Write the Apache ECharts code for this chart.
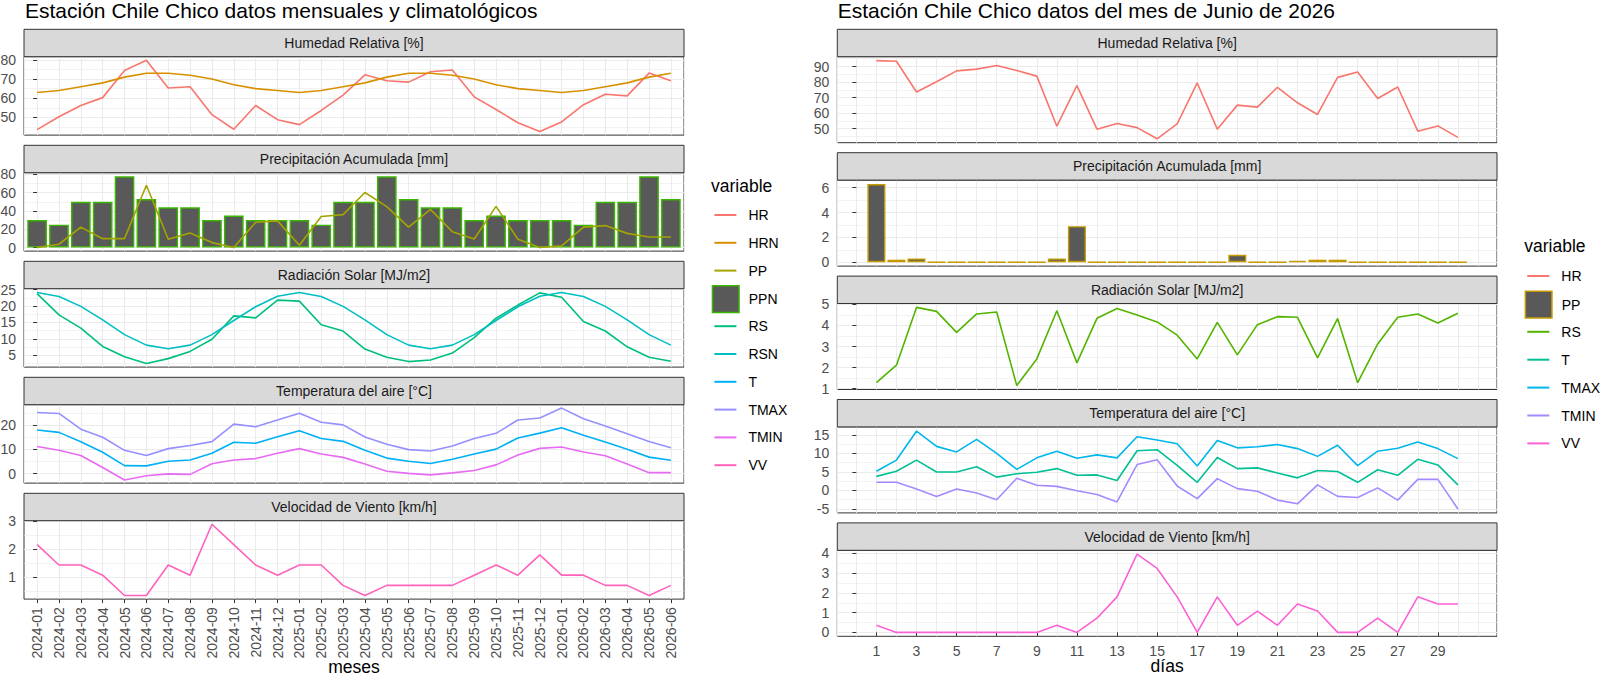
<!DOCTYPE html>
<html><head><meta charset="utf-8">
<script src="https://cdn.jsdelivr.net/npm/echarts@6/dist/echarts.min.js"></script>
<style>html,body{margin:0;padding:0;background:#fff}#c{width:1600px;height:676px}</style>
</head><body><div id="c"></div>
<script>
// ===== DATA: monthly block =====
const meses = ['2024-01','2024-02','2024-03','2024-04','2024-05','2024-06','2024-07','2024-08','2024-09','2024-10','2024-11','2024-12',
  '2025-01','2025-02','2025-03','2025-04','2025-05','2025-06','2025-07','2025-08','2025-09','2025-10','2025-11','2025-12',
  '2026-01','2026-02','2026-03','2026-04','2026-05','2026-06'];
const HR   = [43.6,50.3,56.2,60.3,74.5,79.8,65.3,66.0,51.4,43.8,56.2,48.8,46.2,53.6,61.6,72.2,69.1,68.4,73.8,74.7,60.7,54.1,47.2,42.6,47.6,56.6,62.1,61.2,73.1,69.1];
const HRN  = [63,64,66,68,71,73,73,72,70,67,65,64,63,64,66,68,71,73,73,72,70,67,65,64,63,64,66,68,71,73];
const PP   = [0,3.6,22.3,9.7,9.7,68.1,9.0,15.9,5.4,0,27.7,29.2,2.5,33.9,36.0,60.2,44.7,22.3,41.8,17.3,9.4,45.0,9.0,0,1.8,22.3,24.0,15.5,11.5,11.5];
const PPN  = [30,25,50,50,78,53,44,44,30,35,30,30,30,25,50,50,78,53,44,44,30,35,30,30,30,25,50,50,78,53];
const RS   = [23.8,17.3,13.3,7.7,4.6,2.5,4.0,6.2,9.9,17.0,16.4,21.8,21.5,14.3,12.4,6.9,4.4,3.1,3.6,5.7,10.4,16.3,20.3,24.0,22.7,15.3,12.4,7.6,4.4,3.2];
const RSN  = [24.1,22.9,19.9,15.8,11.3,8.1,7.0,8.1,11.3,15.6,19.8,23.0,24.1,22.9,19.9,15.8,11.3,8.1,7.0,8.1,11.3,15.6,19.8,23.0,24.1,22.9,19.9,15.8,11.3,8.1];
const T    = [18.0,17.0,13.1,8.8,3.3,3.2,5.1,5.6,8.4,12.9,12.5,15.2,17.7,14.5,13.3,9.6,6.4,5.1,4.2,5.9,8.1,10.1,14.7,16.7,18.9,15.8,13.0,10.0,6.8,5.5];
const TMAX = [25.2,24.8,18.3,15.0,9.6,7.5,10.3,11.6,13.2,20.4,19.3,22.1,24.9,21.2,20.1,15.1,12.1,9.9,9.3,11.4,14.5,16.6,22.1,22.9,27.0,22.6,19.6,16.4,13.2,10.7];
const TMIN = [11.2,9.6,7.5,2.5,-2.6,-0.9,-0.1,-0.3,4.1,5.6,6.2,8.4,10.3,8.1,6.7,4.0,1.0,0.1,-0.5,0.3,1.3,3.6,7.7,10.4,11.0,8.9,7.4,4.0,0.4,0.4];
const VV   = [2.16,1.44,1.44,1.08,0.36,0.36,1.44,1.08,2.88,2.16,1.44,1.08,1.44,1.44,0.72,0.36,0.72,0.72,0.72,0.72,1.08,1.44,1.08,1.8,1.08,1.08,0.72,0.72,0.36,0.72];

// ===== DATA: daily block (June 2026) =====
const dias  = [1,2,3,4,5,6,7,8,9,10,11,12,13,14,15,16,17,18,19,20,21,22,23,24,25,26,27,28,29,30];
const dHR   = [93.8,93.4,73.6,80.2,87.2,88.3,90.6,87.4,83.8,51.5,77.7,49.6,53.2,50.6,43.4,53.0,79.4,49.6,65.1,63.8,76.6,66.6,59.1,83.0,86.4,69.4,76.8,48.3,51.7,44.3];
const dPP   = [6.3,0.2,0.3,0,0,0,0,0,0,0.3,2.9,0,0,0,0,0,0,0,0.6,0,0,0.1,0.2,0.2,0,0,0,0,0,0];
const dRS   = [1.28,2.11,4.86,4.67,3.67,4.55,4.64,1.14,2.41,4.70,2.22,4.34,4.81,4.50,4.17,3.54,2.41,4.15,2.60,4.04,4.42,4.39,2.46,4.33,1.28,3.12,4.39,4.55,4.12,4.58];
const dT    = [3.8,5.2,8.2,5.0,5.0,6.4,3.6,4.5,4.9,5.9,4.1,4.2,2.7,10.7,11.0,6.8,2.2,8.9,5.9,6.1,4.7,3.4,5.4,5.1,2.2,5.6,4.1,8.4,6.9,1.5];
const dTMAX = [5.2,8.2,16.0,11.9,10.4,13.8,10.0,5.7,8.8,10.6,8.7,9.6,8.8,14.5,13.6,12.6,6.6,13.5,11.5,11.8,12.4,11.3,9.2,12.2,6.7,10.6,11.4,13.1,11.3,8.6];
const dTMIN = [2.2,2.2,0.4,-1.6,0.4,-0.7,-2.5,3.3,1.4,1.1,-0.1,-1.1,-3.1,7.0,8.3,1.2,-2.2,3.2,0.5,-0.2,-2.6,-3.6,1.5,-1.6,-1.9,0.7,-2.6,3.0,3.0,-5.0];
const dVV   = [0.36,0,0,0,0,0,0,0,0,0.36,0,0.72,1.8,3.96,3.24,1.8,0,1.8,0.36,1.08,0.36,1.44,1.08,0,0,0.72,0,1.8,1.44,1.44];

// ===== TICK LABELS =====
const tkHRm = [50,60,70,80];
const tkPPm = [0,20,40,60,80];
const tkRSm = [5,10,15,20,25];
const tkTm  = [0,10,20];
const tkVVm = [1,2,3];
const tkHRd = [50,60,70,80,90];
const tkPPd = [0,2,4,6];
const tkRSd = [1,2,3,4,5];
const tkTd  = [-5,0,5,10,15];
const tkVVd = [0,1,2,3,4];
const tkDias = [1,3,5,7,9,11,13,15,17,19,21,23,25,27,29];

// ===== STYLE / LAYOUT =====
const FONT = "'Liberation Sans', Arial, Helvetica, sans-serif";
const AX_TXT = '#4D4D4D', BORDER = '#333333', GRID_C = '#EBEBEB';
const stripH = 27.4;
const blocks = {
  L: {x0: 24, x1: 684, top0: 29.3, step: 116, panelH: 78.4, nameY: 666.8},
  R: {x0: 837.3, x1: 1497, top0: 29.3, step: 123.4, panelH: 86, nameY: 666.3}
};

const idxMeses = meses.map((m, i) => i);

const leftPanels = [
  {strip: 'Humedad Relativa [%]', min: 40.74, max: 81.66, iv: 10, ticks: tkHRm,
    s: [['line','HR',HR,'#F8766D'], ['line','HRN',HRN,'#D89000']]},
  {strip: 'Precipitación Acumulada [mm]', min: -3.9, max: 81.9, iv: 20, ticks: tkPPm,
    s: [['bar','PPN',PPN,'#39B600'], ['line','PP',PP,'#A3A500']]},
  {strip: 'Radiación Solar [MJ/m2]', min: 1.42, max: 25.28, iv: 5, ticks: tkRSm,
    s: [['line','RS',RS,'#00BF7D'], ['line','RSN',RSN,'#00BFC4']]},
  {strip: 'Temperatura del aire [°C]', min: -3.9, max: 28.4, iv: 10, ticks: tkTm,
    s: [['line','T',T,'#00B0F6'], ['line','TMAX',TMAX,'#9590FF'], ['line','TMIN',TMIN,'#E76BF3']]},
  {strip: 'Velocidad de Viento [km/h]', min: 0.234, max: 3.006, iv: 1, ticks: tkVVm,
    s: [['line','VV',VV,'#FF62BC']]}
];
const rightPanels = [
  {strip: 'Humedad Relativa [%]', min: 40.88, max: 96.32, iv: 10, ticks: tkHRd,
    s: [['line','HR',dHR,'#F8766D']]},
  {strip: 'Precipitación Acumulada [mm]', min: -0.315, max: 6.615, iv: 2, ticks: tkPPd,
    s: [['bar','PP',dPP,'#C49A00']]},
  {strip: 'Radiación Solar [MJ/m2]', min: 0.954, max: 5.046, iv: 1, ticks: tkRSd,
    s: [['line','RS',dRS,'#53B400']]},
  {strip: 'Temperatura del aire [°C]', min: -6.055, max: 17.155, iv: 5, ticks: tkTd,
    s: [['line','T',dT,'#00C094'], ['line','TMAX',dTMAX,'#00B6EB'], ['line','TMIN',dTMIN,'#A58AFF']]},
  {strip: 'Velocidad de Viento [km/h]', min: -0.198, max: 4.158, iv: 1, ticks: tkVVd,
    s: [['line','VV',dVV,'#FB61D7']]}
];

const grids = [], xAxes = [], yAxes = [], series = [], gfx = [], legends = [];
const tickStyle = {color: BORDER, width: 1};
const labelBase = {color: AX_TXT, fontSize: 14, fontFamily: FONT, lineHeight: 14};
const nameStyle = {fontSize: 17.5, lineHeight: 15, color: '#000', fontFamily: FONT, verticalAlign: 'middle'};

function multipleOf(v, iv) { return Math.abs(v / iv - Math.round(v / iv)) < 1e-6; }

function addBlock(key, panels, xs, isMonth) {
  const b = blocks[key];
  panels.forEach((p, k) => {
    const g = grids.length;
    const stripTop = b.top0 + k * b.step;
    const pTop = stripTop + stripH;
    const bottom = k === panels.length - 1;
    grids.push({left: b.x0, top: pTop, width: b.x1 - b.x0, height: b.panelH,
      show: true, backgroundColor: '#fff', borderColor: BORDER, borderWidth: 1,
      containLabel: false, outerBoundsMode: 'none'});
    // strip
    gfx.push({type: 'rect', silent: true, z: 10,
      shape: {x: b.x0, y: stripTop, width: b.x1 - b.x0, height: stripH},
      style: {fill: '#D9D9D9', stroke: BORDER, lineWidth: 1}});
    gfx.push({type: 'text', silent: true, z: 11, x: (b.x0 + b.x1) / 2, y: stripTop + stripH / 2,
      style: {text: p.strip, fill: '#1A1A1A', fontSize: 14, fontFamily: FONT, align: 'center', verticalAlign: 'middle'}});
    // x axis
    const axisBottom = pTop + b.panelH;
    if (isMonth) {
      xAxes.push({type: 'value', gridIndex: g, min: -0.6, max: 29.6, minInterval: 1, maxInterval: 1,
        axisLine: {show: false},
        axisTick: bottom ? {show: true, length: 4, lineStyle: tickStyle, customValues: idxMeses} : {show: false},
        axisLabel: bottom ? Object.assign({show: true, rotate: 90, margin: 8, customValues: idxMeses,
          formatter: v => (meses[v] !== undefined ? meses[v] : '')}, labelBase) : {show: false},
        splitLine: {show: true, lineStyle: {color: GRID_C, width: 1.1}},
        name: bottom ? 'meses' : '', nameLocation: 'middle', nameGap: b.nameY - axisBottom, nameMoveOverlap: false,
        nameTextStyle: nameStyle});
    } else {
      xAxes.push({type: 'value', gridIndex: g, min: -0.95, max: 31.95, minInterval: 1, maxInterval: 1,
        axisLine: {show: false},
        axisTick: bottom ? {show: true, length: 4, lineStyle: tickStyle, customValues: tkDias} : {show: false},
        axisLabel: bottom ? Object.assign({show: true, margin: 8, customValues: tkDias,
          formatter: v => (tkDias.indexOf(v) >= 0 ? String(v) : '')}, labelBase) : {show: false},
        splitLine: {show: false},
        name: bottom ? 'días' : '', nameLocation: 'middle', nameGap: b.nameY - axisBottom, nameMoveOverlap: false,
        nameTextStyle: nameStyle});
    }
    // y axis
    yAxes.push({type: 'value', gridIndex: g, min: p.min, max: p.max, minInterval: p.iv, maxInterval: p.iv,
      axisLine: {show: false},
      axisTick: {show: true, length: 4, lineStyle: tickStyle, customValues: p.ticks},
      axisLabel: Object.assign({show: true, margin: 8, customValues: p.ticks,
        formatter: v => (multipleOf(v, p.iv) ? String(Math.round(v)) : '')}, labelBase),
      splitLine: {show: true, lineStyle: {color: GRID_C, width: 1.1}},
      minorTick: {show: false, splitNumber: 2},
      minorSplitLine: {show: true, lineStyle: {color: GRID_C, width: 0.6}}});
    // series
    p.s.forEach(([type, name, ys, color]) => {
      const data = xs.map((x, i) => [x, ys[i]]);
      if (type === 'bar') {
        series.push({type: 'bar', name, xAxisIndex: g, yAxisIndex: g, data, barWidth: '90%',
          itemStyle: {color: '#595959', borderColor: color, borderWidth: 1.4},
          z: 2, silent: true, animation: false});
      } else {
        series.push({type: 'line', name, xAxisIndex: g, yAxisIndex: g, data, symbol: 'none', showSymbol: false,
          lineStyle: {color, width: 1.6}, itemStyle: {color}, z: 3, silent: true, animation: false});
      }
    });
  });
}
addBlock('L', leftPanels, idxMeses, true);
addBlock('R', rightPanels, dias, false);
// minor vertical grid (every day) for daily panels
for (let g = 5; g < 10; g++) {
  xAxes.push({type: 'value', gridIndex: g, min: -0.95, max: 31.95, minInterval: 1, maxInterval: 1,
    axisLine: {show: false}, axisTick: {show: false}, axisLabel: {show: false},
    splitLine: {show: true, lineStyle: {color: GRID_C, width: 1}}});
}

// legends
const legL = [['HR','#F8766D',0],['HRN','#D89000',0],['PP','#A3A500',0],['PPN','#39B600',1],['RS','#00BF7D',0],
  ['RSN','#00BFC4',0],['T','#00B0F6',0],['TMAX','#9590FF',0],['TMIN','#E76BF3',0],['VV','#FF62BC',0]];
const legR = [['HR','#F8766D',0],['PP','#C49A00',1],['RS','#53B400',0],['T','#00C094',0],['TMAX','#00B6EB',0],
  ['TMIN','#A58AFF',0],['VV','#FB61D7',0]];
function addLegend(items, keyLeft, c0, step) {
  items.forEach(([name, color, box], i) => {
    const cy = c0 + i * step;
    legends.push({show: true, orient: 'vertical', padding: 0, selectedMode: false,
      left: box ? keyLeft - 2.7 : keyLeft, top: box ? cy - 13.3 : cy - 8,
      itemWidth: box ? 26.6 : 22, itemHeight: box ? 26.6 : 2,
      textStyle: {fontSize: 14, color: '#000', fontFamily: FONT, lineHeight: 16, padding: [0, 0, 0, box ? 4.7 : 7]},
      data: [{name, icon: 'rect',
        itemStyle: box ? {color: '#595959', borderColor: color, borderWidth: 1.5} : {color, borderWidth: 0}}]});
  });
}
addLegend(legL, 714.4, 215, 27.8);
addLegend(legR, 1527.3, 276, 27.9);

const titleStyle = {fontSize: 21, fontWeight: 'normal', color: '#000', fontFamily: FONT, lineHeight: 20};
const option = {
  backgroundColor: '#fff',
  animation: false,
  title: [
    {text: 'Estación Chile Chico datos mensuales y climatológicos', left: 25, top: 0, padding: 0, textStyle: titleStyle},
    {text: 'Estación Chile Chico datos del mes de Junio de 2026', left: 837.7, top: 0, padding: 0, textStyle: titleStyle},
    {text: 'variable', left: 711, top: 177, padding: 0,
      textStyle: {fontSize: 17.5, fontWeight: 'normal', color: '#000', fontFamily: FONT, lineHeight: 17.5}},
    {text: 'variable', left: 1524.3, top: 237, padding: 0,
      textStyle: {fontSize: 17.5, fontWeight: 'normal', color: '#000', fontFamily: FONT, lineHeight: 17.5}}
  ],
  grid: grids, xAxis: xAxes, yAxis: yAxes, series, legend: legends,
  graphic: {elements: gfx},
  tooltip: {show: false}
};
const chart = echarts.init(document.getElementById('c'), null, {renderer: 'svg', width: 1600, height: 676});
chart.setOption(option);
</script></body></html>
